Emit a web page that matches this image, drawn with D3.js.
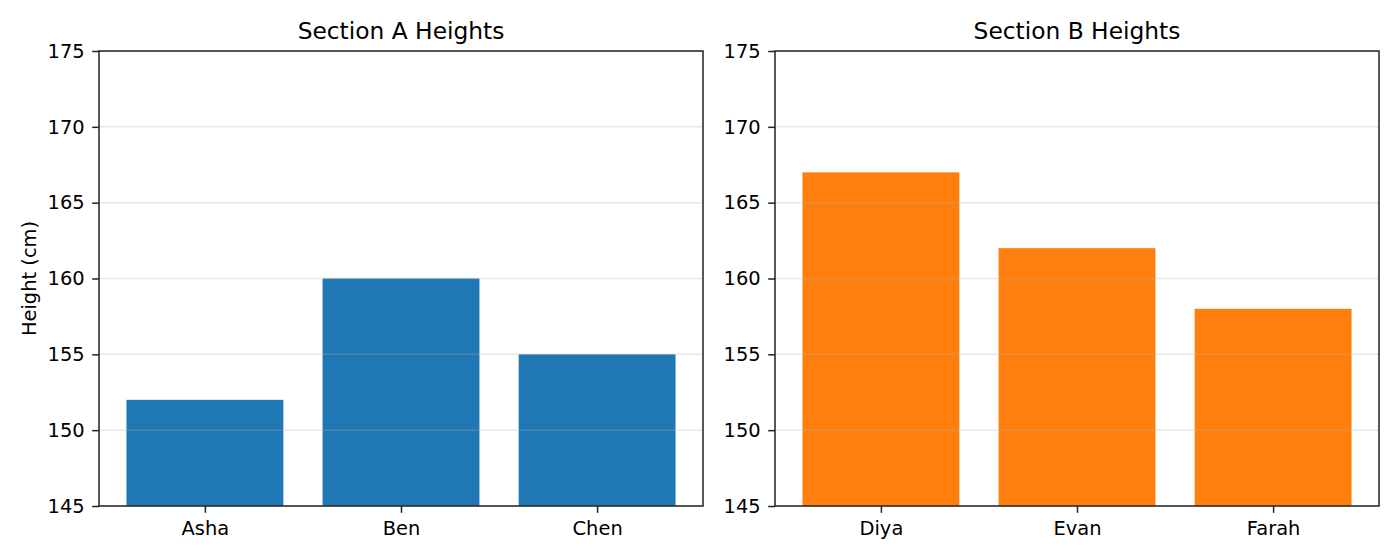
<!DOCTYPE html>
<html><head><meta charset="utf-8">
<script src="https://cdn.jsdelivr.net/npm/d3@7"></script>
<style>body{margin:0;background:#fff}svg{display:block}text{font-family:"DejaVu Sans",sans-serif;fill:#000}</style>
</head><body>
<script>
const namesA = ["Asha", "Ben", "Chen"];
const valuesA = [152, 160, 155];
const namesB = ["Diya", "Evan", "Farah"];
const valuesB = [167, 162, 158];
const yTicks = [145, 150, 155, 160, 165, 170, 175];
const titles = ["Section A Heights", "Section B Heights"];
const yLabel = "Height (cm)";

const W = 1400, H = 560;
const svg = d3.select("body").append("svg").attr("width", W).attr("height", H);

const panels = [
  {names: namesA, values: valuesA, color: "#1f77b4", x0: 99, title: titles[0], ylab: true},
  {names: namesB, values: valuesB, color: "#ff7f0e", x0: 775, title: titles[1], ylab: false}
];
const pw = 604, plotTop = 51, plotBottom = 506;
const tickFont = "19.44px", titleFont = "23.33px";

panels.forEach(p => {
  const g = svg.append("g");
  const x = d3.scaleLinear().domain([-0.54, p.names.length - 1 + 0.54]).range([p.x0, p.x0 + pw]);
  const y = d3.scaleLinear().domain([145, 175]).range([plotBottom, plotTop]);
  // bars
  g.selectAll("rect.bar").data(p.values).join("rect")
    .attr("x", (d, i) => x(i - 0.4)).attr("width", (d, i) => x(i + 0.4) - x(i - 0.4))
    .attr("y", d => y(d)).attr("height", d => y(145) - y(d))
    .attr("fill", p.color);
  // grid
  g.selectAll("line.grid").data(yTicks).join("line")
    .attr("x1", p.x0).attr("x2", p.x0 + pw)
    .attr("y1", d => y(d)).attr("y2", d => y(d))
    .attr("stroke", "#b0b0b0").attr("stroke-opacity", 0.3).attr("stroke-width", 1.5);
  // y axis
  const ya = g.append("g").attr("transform", `translate(${p.x0},0)`)
    .call(d3.axisLeft(y).tickValues(yTicks).tickSize(6.8).tickPadding(7.5));
  // x axis
  const xa = g.append("g").attr("transform", `translate(0,${plotBottom})`)
    .call(d3.axisBottom(x).tickValues(p.names.map((d, i) => i)).tickFormat(i => p.names[i]).tickSize(6.8).tickPadding(8));
  [ya, xa].forEach(a => {
    a.select(".domain").remove();
    a.selectAll("line").attr("stroke", "#222").attr("stroke-width", 1.5);
    a.selectAll("text").style("font-size", tickFont).style("font-family", "DejaVu Sans").attr("fill", "#000");
  });
  // frame
  g.append("rect").attr("x", p.x0).attr("y", plotTop).attr("width", pw).attr("height", plotBottom - plotTop)
    .attr("fill", "none").attr("stroke", "#222").attr("stroke-width", 1.5);
  // title
  g.append("text").attr("x", p.x0 + pw / 2).attr("y", plotTop - 11.7).attr("text-anchor", "middle")
    .style("font-size", titleFont).text(p.title);
  if (p.ylab) {
    g.append("text").attr("transform", `translate(35.5,${(plotTop + plotBottom) / 2}) rotate(-90)`)
      .attr("text-anchor", "middle").style("font-size", tickFont).text(yLabel);
  }
});
</script>
</body></html>
